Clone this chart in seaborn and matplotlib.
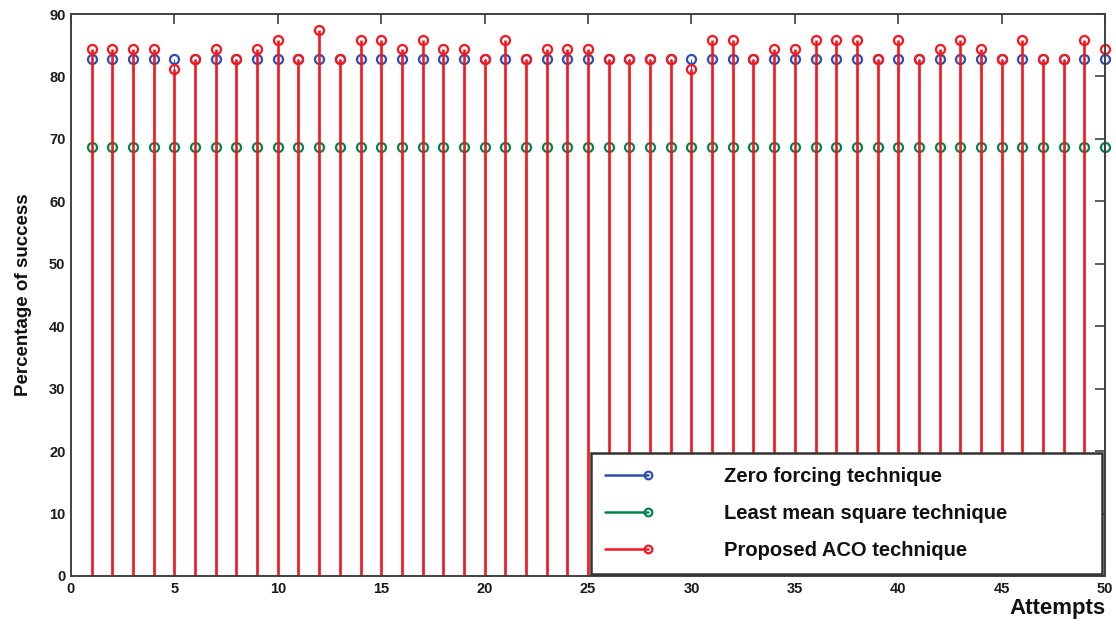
import matplotlib
matplotlib.use("Agg")
import matplotlib.pyplot as plt
from matplotlib.lines import Line2D
from matplotlib.legend_handler import HandlerLine2D
import numpy as np
import seaborn as sns

# --- donnees ---
attempts = list(range(1, 51))
zero_forcing = [
    82.8, 82.8, 82.8, 82.8, 82.8, 82.8, 82.8, 82.8, 82.8, 82.8,
    82.8, 82.8, 82.8, 82.8, 82.8, 82.8, 82.8, 82.8, 82.8, 82.8,
    82.8, 82.8, 82.8, 82.8, 82.8, 82.8, 82.8, 82.8, 82.8, 82.8,
    82.8, 82.8, 82.8, 82.8, 82.8, 82.8, 82.8, 82.8, 82.8, 82.8,
    82.8, 82.8, 82.8, 82.8, 82.8, 82.8, 82.8, 82.8, 82.8, 82.8,
]
least_mean_square = [
    68.75, 68.75, 68.75, 68.75, 68.75, 68.75, 68.75, 68.75, 68.75, 68.75,
    68.75, 68.75, 68.75, 68.75, 68.75, 68.75, 68.75, 68.75, 68.75, 68.75,
    68.75, 68.75, 68.75, 68.75, 68.75, 68.75, 68.75, 68.75, 68.75, 68.75,
    68.75, 68.75, 68.75, 68.75, 68.75, 68.75, 68.75, 68.75, 68.75, 68.75,
    68.75, 68.75, 68.75, 68.75, 68.75, 68.75, 68.75, 68.75, 68.75, 68.75,
]
proposed_aco = [
    84.4, 84.4, 84.4, 84.4, 81.25, 82.8, 84.4, 82.8, 84.4, 85.9,
    82.8, 87.5, 82.8, 85.9, 85.9, 84.4, 85.9, 84.4, 84.4, 82.8,
    85.9, 82.8, 84.4, 84.4, 84.4, 82.8, 82.8, 82.8, 82.8, 81.25,
    85.9, 85.9, 82.8, 84.4, 84.4, 85.9, 85.9, 85.9, 82.8, 85.9,
    82.8, 84.4, 85.9, 84.4, 82.8, 85.9, 82.8, 82.8, 85.9, 84.4,
]
labels = ["Zero forcing technique", "Least mean square technique", "Proposed ACO technique"]
colors = ["#2f4fb0", "#00864a", "#f5161e"]
stem_widths = [0.8, 0.8, 1.9]  # les tiges rouges recouvrent les autres

sns.set_theme(style="white")
plt.rcParams['font.family'] = ['Liberation Sans', 'DejaVu Sans']
plt.rcParams['font.weight'] = 'bold'

fig = plt.figure(figsize=(11.16, 6.26), dpi=100)
ax = fig.add_axes([0.0636, 0.0799, 0.9266, 0.8977])

for serie, col, lw in zip([zero_forcing, least_mean_square, proposed_aco], colors, stem_widths):
    ml, sl, bl = ax.stem(attempts, serie, linefmt='-', markerfmt='o', basefmt=' ')
    plt.setp(sl, color=col, linewidth=lw)
    plt.setp(ml, markerfacecolor='none', markeredgecolor=col, markersize=6.5,
             markeredgewidth=1.6, clip_on=False)

ax.set_xlim(0, 50)
ax.set_ylim(0, 90)
ax.set_xticks(np.arange(0, 51, 5))
ax.set_yticks(np.arange(0, 91, 10))
ax.tick_params(direction='in', length=7, width=1.2, color='#404040',
               top=True, right=True, labelsize=10.5, labelcolor='#1a1a1a', pad=4)
for lab in ax.get_xticklabels() + ax.get_yticklabels():
    lab.set_fontweight('bold')
for sp in ax.spines.values():
    sp.set_color('#404040')
    sp.set_linewidth(1.4)

ax.set_ylabel("Percentage of success", fontsize=13.5, fontweight='bold', color='#111111', labelpad=12)
ax.set_xlabel("Attempts", fontsize=16, fontweight='bold', color='#111111', loc='right', labelpad=2)

class EndMarker(HandlerLine2D):
    def create_artists(self, *args, **kw):
        arts = super().create_artists(*args, **kw)
        for a in arts:
            a.set_markevery([2])
        return arts

handles = [Line2D([0], [0], color=c, lw=1.8, marker='o', markerfacecolor='none',
                  markeredgecolor=c, markersize=5.5, markeredgewidth=1.6) for c in colors]
leg = ax.legend(handles, labels, loc='lower left', bbox_to_anchor=(0.503, 0.0036, 0.494, 0.2),
                mode='expand', borderaxespad=0, fontsize=14.5, numpoints=1, handlelength=2.1,
                handletextpad=3.8, labelspacing=0.9, borderpad=0.7, fancybox=False, framealpha=1,
                edgecolor='#333333', handler_map={Line2D: EndMarker()})
leg.get_frame().set_linewidth(1.8)
for t in leg.get_texts():
    t.set_fontweight('bold')
    t.set_color('#111111')

fig.savefig("out.png", dpi=100)
